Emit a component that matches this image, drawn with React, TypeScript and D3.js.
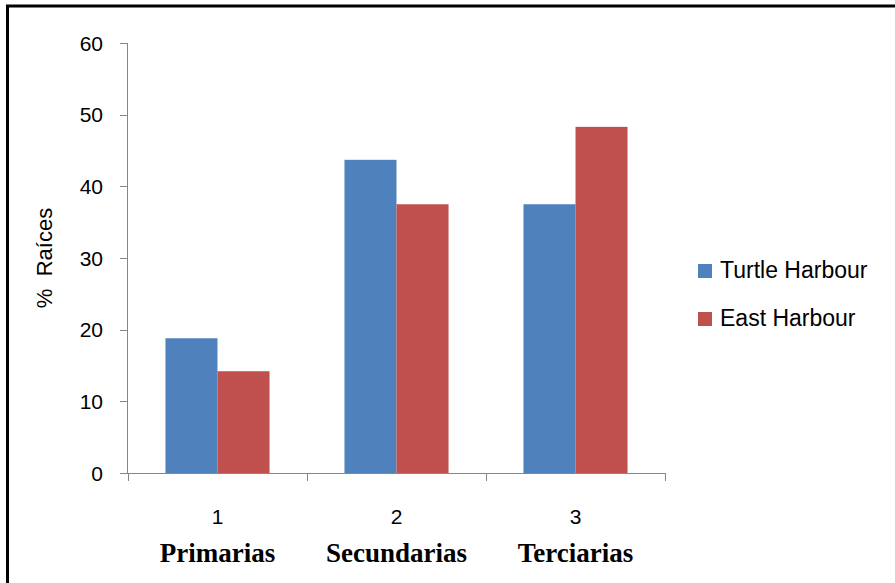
import * as d3 from 'd3';

const categories = ['1', '2', '3'];
const groupNames = ['Primarias', 'Secundarias', 'Terciarias'];
const seriesNames = ['Turtle Harbour', 'East Harbour'];
const turtleHarbour = [18.8, 43.7, 37.5];
const eastHarbour = [14.2, 37.5, 48.3];
const yTicks = [0, 10, 20, 30, 40, 50, 60];
const colors = ['#4f81bd', '#c0504d'];

const W = 895;
const H = 583;
const axisColor = '#868686';
const sans = "'Liberation Sans', Arial, sans-serif";

export default function App() {
  const x = d3.scaleBand<string>().domain(categories).range([128, 665]).paddingInner(0).paddingOuter(0);
  const inner = d3.scaleBand<number>().domain([0, 1]).range([0, x.bandwidth()]).paddingInner(0).paddingOuter(0.72);
  const y = d3.scaleLinear().domain([0, 60]).range([473, 43]);
  const series = [turtleHarbour, eastHarbour];

  const xTickPos = [...categories.map((c) => x(c)!), x.range()[1]];

  return (
    <svg width={W} height={H} style={{ position: 'absolute', left: 0, top: 0, background: '#fff' }}>
      <rect x={7.5} y={6} width={W + 20} height={H + 20} fill="#fff" stroke="#000" strokeWidth={3} />

      {/* bars */}
      {series.map((vals, si) =>
        vals.map((v, ci) => (
          <rect
            key={`${si}-${ci}`}
            x={x(categories[ci])! + inner(si)!}
            y={y(v)}
            width={inner.bandwidth()}
            height={y(0) - y(v)}
            fill={colors[si]}
          />
        ))
      )}

      {/* y axis */}
      <line x1={127.5} x2={127.5} y1={y(60)} y2={y(0)} stroke={axisColor} strokeWidth={1} />
      {yTicks.map((t) => (
        <g key={t}>
          <line x1={120} x2={128} y1={Math.round(y(t)) + 0.5} y2={Math.round(y(t)) + 0.5} stroke={axisColor} />
          <text x={103} y={y(t)} dy="0.36em" textAnchor="end" fontFamily={sans} fontSize={21} fill="#000">
            {t}
          </text>
        </g>
      ))}

      {/* x axis */}
      <line x1={127.5} x2={665} y1={473.5} y2={473.5} stroke={axisColor} />
      {xTickPos.map((p, i) => (
        <line key={i} x1={Math.round(p) + 0.5} x2={Math.round(p) + 0.5} y1={473} y2={481} stroke={axisColor} />
      ))}
      {categories.map((c, i) => (
        <g key={c}>
          <text x={x(c)! + x.bandwidth() / 2} y={524} textAnchor="middle" fontFamily={sans} fontSize={21} fill="#000">
            {c}
          </text>
          <text
            x={x(c)! + x.bandwidth() / 2}
            y={562}
            textAnchor="middle"
            fontFamily="'Liberation Serif', 'Times New Roman', serif"
            fontWeight="bold"
            fontSize={27}
            fill="#000"
          >
            {groupNames[i]}
          </text>
        </g>
      ))}

      {/* y title */}
      <text
        transform="translate(52,258) rotate(-90)"
        textAnchor="middle"
        fontFamily={sans}
        fontSize={22}
        fill="#000"
        style={{ whiteSpace: 'pre' }}
      >
        {'%  Raíces'}
      </text>

      {/* legend */}
      {seriesNames.map((name, i) => (
        <g key={name} transform={`translate(698, ${264 + i * 48})`}>
          <rect width={14} height={14} fill={colors[i]} />
          <text x={22} y={14} fontFamily={sans} fontSize={23} fill="#000">
            {name}
          </text>
        </g>
      ))}
    </svg>
  );
}
